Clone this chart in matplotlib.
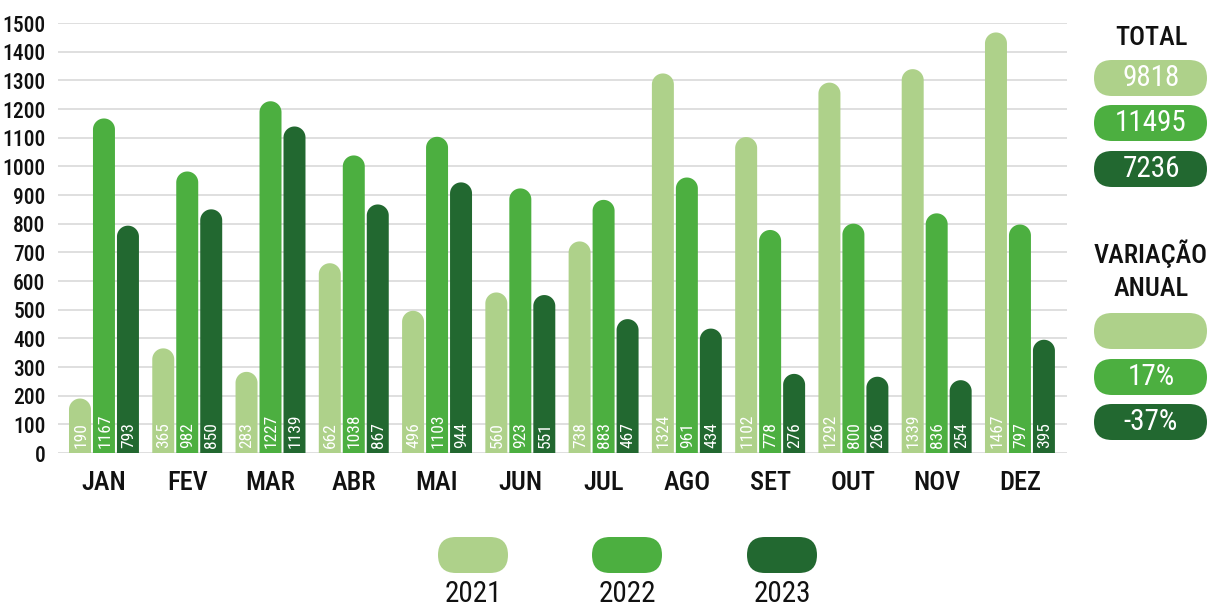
import numpy as np
import matplotlib
matplotlib.use("Agg")
import matplotlib.pyplot as plt
from matplotlib.path import Path
from matplotlib.patches import PathPatch, FancyBboxPatch

plt.rcParams['font.family'] = ['Roboto Condensed', 'Liberation Sans Narrow', 'DejaVu Sans']

months = ["JAN", "FEV", "MAR", "ABR", "MAI", "JUN", "JUL", "AGO", "SET", "OUT", "NOV", "DEZ"]
years = ["2021", "2022", "2023"]
v2021 = [190, 365, 283, 662, 496, 560, 738, 1324, 1102, 1292, 1339, 1467]
v2022 = [1167, 982, 1227, 1038, 1103, 923, 883, 961, 778, 800, 836, 797]
v2023 = [793, 850, 1139, 867, 944, 551, 467, 434, 276, 266, 254, 395]
totals = ["9818", "11495", "7236"]
variations = ["", "17%", "-37%"]
yticks = list(range(0, 1501, 100))

colors = ["#AED18A", "#4CAF40", "#226830"]
series = [v2021, v2022, v2023]

W, H = 1213, 609
fig = plt.figure(figsize=(W / 100, H / 100), dpi=100)
ax = fig.add_axes([58 / W, (H - 453) / H, (1067 - 58) / W, (453 - 23) / H])
ax.set_xlim(-0.552, 11.565)
ax.set_ylim(0, 1500)
for s in ax.spines.values():
    s.set_visible(False)
ax.set_yticks(yticks)
ax.yaxis.grid(True, color="#dcdcdc", lw=1.3)
ax.set_axisbelow(True)
ax.tick_params(axis='both', length=0)
ax.tick_params(axis='y', pad=9, labelsize=15.5, labelcolor="#111111")
ax.tick_params(axis='x', pad=13, labelsize=19, labelcolor="#111111")
ax.set_xticks(range(len(months)))
ax.set_xticklabels(months)
for lab in ax.get_xticklabels() + ax.get_yticklabels():
    lab.set_fontweight("medium")

bw = 0.264
step = 0.288
fig.canvas.draw()
p0 = ax.transData.transform((0, 0))
p1 = ax.transData.transform((1, 1))
sx = p1[0] - p0[0]
sy = p1[1] - p0[1]
rx = bw / 2
ry = rx * sx / sy

theta = np.linspace(np.pi, 0, 40)
for k, vals in enumerate(series):
    for i, h in enumerate(vals):
        c = i + (k - 1) * step
        x0, x1 = c - bw / 2, c + bw / 2
        verts = [(x0, 0), (x0, h - ry)]
        verts += [(c + rx * np.cos(t), h - ry + ry * np.sin(t)) for t in theta]
        verts += [(x1, h - ry), (x1, 0), (x0, 0)]
        codes = [Path.MOVETO] + [Path.LINETO] * (len(verts) - 2) + [Path.CLOSEPOLY]
        ax.add_patch(PathPatch(Path(verts, codes), facecolor=colors[k], edgecolor="none", clip_on=False))
        ax.annotate(str(h), (c, 0), xytext=(0.5, 3.5), textcoords="offset points",
                    rotation=90, ha="center", va="bottom", color="white", fontsize=12.5)

tr = fig.dpi_scale_trans


def pill(x, y, w, h, color):
    fig.patches.append(FancyBboxPatch((x / 100, (H - y - h) / 100), w / 100, h / 100,
                                      boxstyle="round,pad=0,rounding_size=%f" % (h / 200),
                                      facecolor=color, edgecolor="none", transform=tr, figure=fig))


def ftext(x, y, s, **kw):
    fig.text(x / 100, (H - y) / 100, s, transform=tr, ha="center", va="center", **kw)


ftext(1151, 38, "TOTAL", fontsize=19, color="#111111", fontweight="medium")
tot_y = [60, 105, 151]
for k in range(3):
    pill(1094, tot_y[k], 113, 36, colors[k])
    ftext(1151, tot_y[k] + 18, totals[k], fontsize=21, color="white")
ftext(1151, 254, "VARIAÇÃO", fontsize=19, color="#111111", fontweight="medium")
ftext(1151, 289, "ANUAL", fontsize=19, color="#111111", fontweight="medium")
var_y = [313, 359, 404]
for k in range(3):
    pill(1094, var_y[k], 113, 36, colors[k])
    ftext(1151, var_y[k] + 18, variations[k], fontsize=21, color="white")

leg_x = [438, 592, 747]
for k in range(3):
    pill(leg_x[k], 537, 70, 36, colors[k])
    ftext(leg_x[k] + 35, 594, years[k], fontsize=21, color="#111111")

fig.savefig("out.png", dpi=100)
